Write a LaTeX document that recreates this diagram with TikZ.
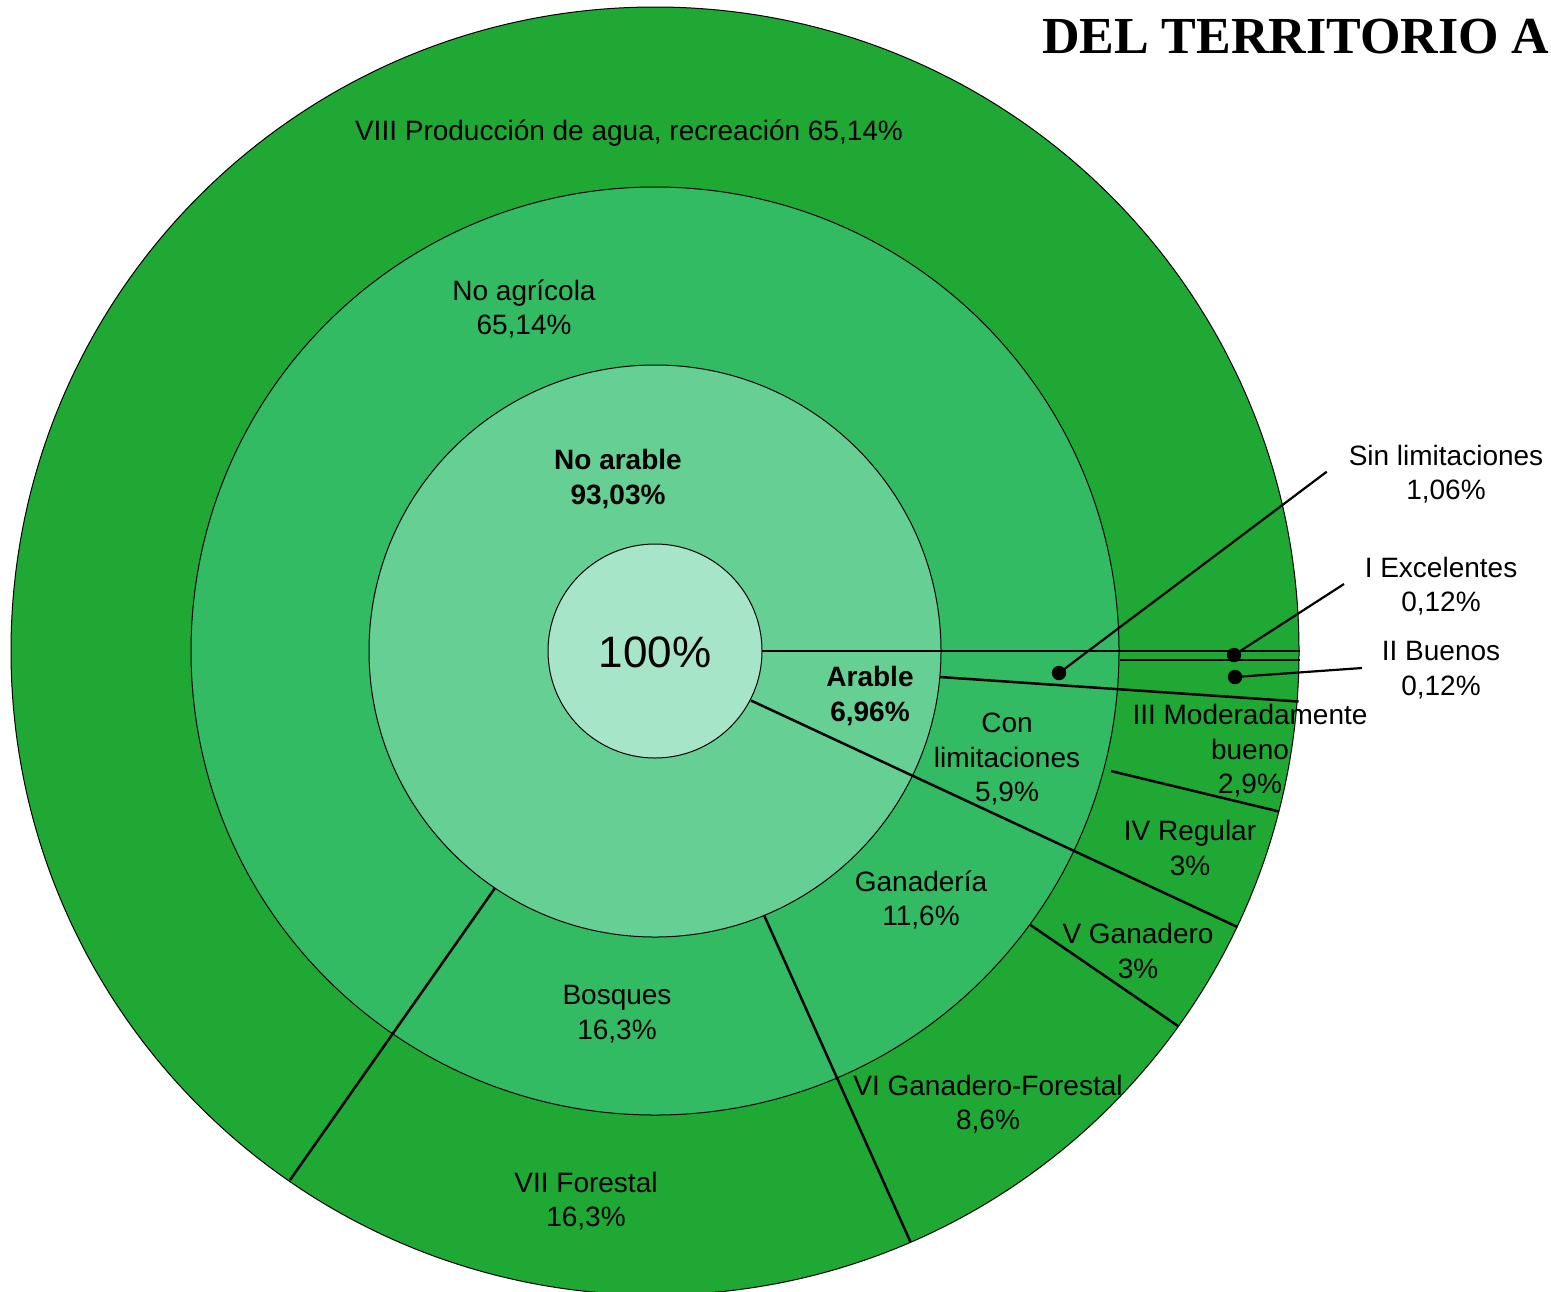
\documentclass[tikz,border=0pt]{standalone}
\usepackage{fontspec}
\newfontfamily\labfont{Liberation Sans}
\newfontfamily\ttlfont{Liberation Serif}
\definecolor{ringA}{RGB}{32,168,52}
\definecolor{ringB}{RGB}{51,187,99}
\definecolor{ringC}{RGB}{102,207,148}
\definecolor{ringD}{RGB}{166,229,199}
\tikzset{
  lbl/.style={font=\labfont\fontsize{14}{17.2}\selectfont, align=center, inner sep=0pt},
  blbl/.style={lbl, font=\labfont\bfseries\fontsize{14}{17.2}\selectfont},
  ringline/.style={line width=0.5pt},
  divider/.style={line width=1.25pt},
  leader/.style={line width=1.1pt},
  dotnode/.style={circle, fill=black, inner sep=0pt, minimum size=7.2pt}
}
\begin{document}
\begin{tikzpicture}[x=0.5pt,y=-0.5pt]
\useasboundingbox (0,0) rectangle (1551,1291);
\coordinate (o) at (655,651);
% rings
\fill[ringA] (o) circle[radius=322pt];
\draw[ringline] (o) circle[radius=322pt];
\fill[ringB] (o) circle[radius=232pt];
\draw[ringline] (o) circle[radius=232pt];
\fill[ringC] (o) circle[radius=143pt];
\draw[ringline] (o) circle[radius=143pt];
\fill[ringD] (o) circle[radius=53.5pt];
\draw[ringline] (o) circle[radius=53.5pt];
% dividers
\draw[divider] (762,651) -- (1300,651);
\draw[divider] (1120,660) -- (1299.5,660);
\draw[divider] (940,677) -- (1298.5,701.5);
\draw[divider] (1111,771) -- (1279,811.5);
\draw[divider] (751,700.5) -- (1237.5,927);
\draw[divider] (1030.5,925) -- (1178,1026);
\draw[divider] (764,915) -- (910.5,1242);
\draw[divider] (495,888) -- (290,1180);
% dots and leaders
\node[dotnode] (dSin) at (1059,673) {};
\node[dotnode] (dI) at (1234,655) {};
\node[dotnode] (dII) at (1235,677) {};
\coordinate (eSin) at (1326.7,471.7);
\coordinate (eI) at (1344,584);
\coordinate (eII) at (1362,668);
\draw[leader] (dSin.center) -- (eSin);
\draw[leader] (dI.center) -- (eI);
\draw[leader] (dII.center) -- (eII);
% labels
\node[lbl] (tVIII) at (629,133) {VIII Producción de agua, recreación 65,14\%};
\node[lbl] (tNoAg) at (524,309) {No agrícola\\65,14\%};
\node[blbl] (tNoAr) at (618,479) {No arable\\93,03\%};
\node[lbl, font=\labfont\fontsize{22}{26}\selectfont] (tTot) at (655,652) {100\%};
\node[blbl] (tAr) at (870,696) {Arable\\6,96\%};
\node[lbl] (tCon) at (1007,759) {Con\\limitaciones\\5,9\%};
\node[lbl] (tIII) at (1250,751) {III Moderadamente\\bueno\\2,9\%};
\node[lbl] (tIV) at (1190,848) {IV Regular\\3\%};
\node[lbl] (tV) at (1138,951) {V Ganadero\\3\%};
\node[lbl] (tVI) at (988,1104) {VI Ganadero-Forestal\\8,6\%};
\node[lbl] (tBos) at (617,1014) {Bosques\\16,3\%};
\node[lbl] (tGan) at (921,900) {Ganadería\\11,6\%};
\node[lbl] (tVII) at (586,1201) {VII Forestal\\16,3\%};
\node[lbl] (tSin) at (1446,474) {Sin limitaciones\\1,06\%};
\node[lbl] (tI) at (1441,586) {I Excelentes\\0,12\%};
\node[lbl] (tII) at (1441,670) {II Buenos\\0,12\%};
\node[anchor=base east, inner sep=0pt, font=\ttlfont\bfseries\fontsize{26}{30}\selectfont] (title) at (1550,53) {DEL TERRITORIO A};
\end{tikzpicture}
\end{document}
